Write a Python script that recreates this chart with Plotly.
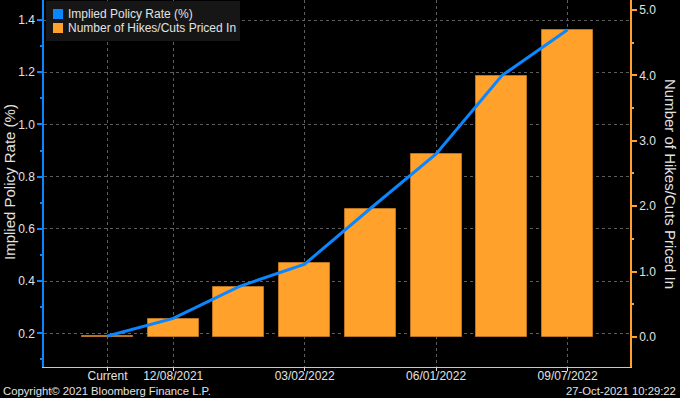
import plotly.graph_objects as go

# ---- data ----
categories = ["Current", "12/08/2021", "01/26/2022", "03/02/2022",
              "04/13/2022", "06/01/2022", "07/13/2022", "09/07/2022"]
implied_rate = [0.19, 0.257, 0.379, 0.465, 0.678, 0.887, 1.187, 1.363]
hikes_priced = [0.01, 0.275, 0.765, 1.127, 1.957, 2.794, 3.986, 4.699]
tick_labels = ["Current", "12/08/2021", "03/02/2022", "06/01/2022", "09/07/2022"]
series_names = ["Implied Policy Rate (%)", "Number of Hikes/Cuts Priced In"]

W, H = 680, 398
ML, MR, MT, MB = 44, 50, 0, 31
PW, PH = W - ML - MR, H - MT - MB

BLUE = "#0A86FF"
ORANGE = "#FFA12B"
FONT = "Liberation Sans, Arial, sans-serif"
TXT = "#E2E2E2"


def px(x):
    return (x - ML) / PW


def py(y):
    return 1 - (y - MT) / PH


idx = list(range(len(categories)))
tickvals = [categories.index(t) for t in tick_labels]

fig = go.Figure()
fig.add_trace(go.Bar(
    x=idx, y=hikes_priced, yaxis="y", width=0.776,
    marker=dict(color=ORANGE, line=dict(color="#B87420", width=1)),
    name=series_names[1], showlegend=False, hoverinfo="y"))
fig.add_trace(go.Scatter(
    x=idx, y=implied_rate, yaxis="y2", mode="lines",
    line=dict(color=BLUE, width=3), name=series_names[0],
    showlegend=False))

shapes = []
annotations = []
# legend (manual)
shapes.append(dict(type="rect", xref="paper", yref="paper",
                   x0=px(46), x1=px(240), y0=py(41), y1=py(1),
                   fillcolor="#161616", line=dict(width=0), layer="above"))
for i, (name, col) in enumerate(zip(series_names, [BLUE, ORANGE])):
    yc = 14 + 14 * i
    shapes.append(dict(type="rect", xref="paper", yref="paper",
                       x0=px(53), x1=px(63), y0=py(yc + 5), y1=py(yc - 5),
                       fillcolor=col, line=dict(width=0), layer="above"))
    annotations.append(dict(text=name, xref="paper", yref="paper",
                            x=px(66), y=py(yc), xanchor="left", yanchor="middle",
                            showarrow=False, font=dict(size=12, color=TXT, family=FONT)))

annotations += [
    dict(text=series_names[0], xref="paper", yref="paper", x=px(9), y=py(182),
         textangle=-90, showarrow=False, xanchor="center", yanchor="middle",
         font=dict(size=15, color=TXT, family=FONT)),
    dict(text=series_names[1], xref="paper", yref="paper", x=px(671), y=py(184),
         textangle=90, showarrow=False, xanchor="center", yanchor="middle",
         font=dict(size=15, color=TXT, family=FONT)),
    dict(text="Copyright\u00a9 2021 Bloomberg Finance L.P.", xref="paper", yref="paper",
         x=px(1), y=py(391), xanchor="left", yanchor="middle", showarrow=False,
         font=dict(size=11.3, color=TXT, family=FONT)),
    dict(text="27-Oct-2021 10:29:22", xref="paper", yref="paper",
         x=px(678), y=py(391), xanchor="right", yanchor="middle", showarrow=False,
         font=dict(size=11.3, color=TXT, family=FONT)),
]

fig.update_layout(
    width=W, height=H,
    margin=dict(l=ML, r=MR, t=MT, b=MB, pad=0),
    paper_bgcolor="black", plot_bgcolor="black",
    font=dict(family=FONT, color=TXT, size=12),
    showlegend=False,
    bargap=0,
    xaxis=dict(range=[-0.966, 7.95], tickmode="array", tickvals=tickvals,
               ticktext=tick_labels, showgrid=True, gridcolor="#5E5E5E",
               griddash="dot", gridwidth=1, zeroline=False,
               showline=True, linecolor="#C8C8C8", linewidth=1,
               ticks="outside", ticklen=3, tickcolor="#E0E0E0",
               ticklabelstandoff=-5,
               tickfont=dict(size=12, color=TXT), anchor="y"),
    yaxis=dict(side="right", range=[-0.459, 5.153], tickmode="linear",
               tick0=0, dtick=1, tickformat=".1f", showgrid=False,
               zeroline=False, showline=True, linecolor=ORANGE, linewidth=1.5,
               ticks="outside", ticklen=5, tickwidth=2, tickcolor=ORANGE,
               minor=dict(dtick=0.5, ticks="outside", ticklen=2, tickcolor=ORANGE),
               tickfont=dict(size=12, color=TXT)),
    yaxis2=dict(side="left", overlaying="y", range=[0.071, 1.4766],
                tickmode="linear", tick0=0.2, dtick=0.2, tickformat=".1f",
                showgrid=True, gridcolor="#5E5E5E", griddash="dot", gridwidth=1,
                zeroline=False, showline=True, linecolor=BLUE, linewidth=1.5,
                ticks="outside", ticklen=5, tickwidth=2, tickcolor=BLUE,
                minor=dict(dtick=0.1, tick0=0.1, ticks="outside", ticklen=2,
                           tickcolor=BLUE, showgrid=False),
                tickfont=dict(size=12, color=TXT)),
    shapes=shapes,
    annotations=annotations,
)

fig.write_html(
    "out.html",
    config={"displayModeBar": False},
    post_script="document.body.style.margin='0px';"
                "document.body.style.overflow='hidden';"
                "document.body.style.background='black';",
)
